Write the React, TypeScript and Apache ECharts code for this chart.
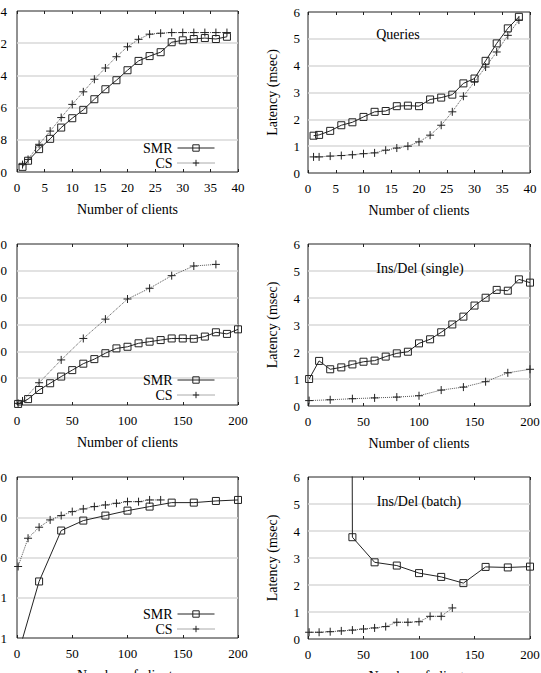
import React, { useEffect, useRef } from 'react';
import * as echarts from 'echarts';

const FONT = '"Liberation Serif", "Times New Roman", serif';

// ---------- Panel A (top-left): throughput vs clients (values in tick units) ----------
const A_X = [1, 2, 4, 6, 8, 10, 12, 14, 16, 18, 20, 22, 24, 26, 28, 30, 32, 34, 36, 38];
const A_SMR = [0.16, 0.35, 0.71, 1.03, 1.38, 1.67, 1.93, 2.26, 2.57, 2.85, 3.16, 3.45, 3.6, 3.72, 4.03, 4.09, 4.13, 4.16, 4.13, 4.2];
const A_CS = [0.23, 0.39, 0.86, 1.27, 1.69, 2.1, 2.49, 2.88, 3.23, 3.58, 3.89, 4.12, 4.28, 4.31, 4.33, 4.33, 4.33, 4.33, 4.33, 4.33];
const A_Y_LABELS = ['0', '8', '6', '4', '2', '4'];

// ---------- Panel B (top-right): Queries latency ----------
const B_X = [1, 2, 4, 6, 8, 10, 12, 14, 16, 18, 20, 22, 24, 26, 28, 30, 32, 34, 36, 38];
const B_SMR = [1.39, 1.42, 1.57, 1.78, 1.89, 2.09, 2.28, 2.31, 2.49, 2.51, 2.49, 2.74, 2.81, 2.92, 3.34, 3.52, 4.18, 4.83, 5.39, 5.82];
const B_CS = [0.6, 0.6, 0.63, 0.65, 0.68, 0.72, 0.75, 0.85, 0.93, 1.0, 1.16, 1.41, 1.78, 2.28, 2.86, 3.4, 3.95, 4.51, 5.13, 5.7];

// ---------- Panel C (middle-left): throughput (tick units) ----------
const C_SMR_X = [1, 10, 20, 30, 40, 50, 60, 70, 80, 90, 100, 110, 120, 130, 140, 150, 160, 170, 180, 190, 200];
const C_SMR = [0.04, 0.22, 0.56, 0.81, 1.06, 1.3, 1.54, 1.71, 1.93, 2.11, 2.17, 2.3, 2.36, 2.42, 2.48, 2.48, 2.47, 2.55, 2.71, 2.65, 2.82];
const C_CS_X = [1, 5, 20, 40, 60, 80, 100, 120, 140, 160, 180];
const C_CS = [0.06, 0.15, 0.83, 1.68, 2.48, 3.2, 3.95, 4.35, 4.82, 5.18, 5.24];
const C_Y_LABELS = ['', '0', '0', '0', '0', '0', '0'];

// ---------- Panel D (middle-right): Ins/Del (single) latency ----------
const D_SMR_X = [1, 10, 20, 30, 40, 50, 60, 70, 80, 90, 100, 110, 120, 130, 140, 150, 160, 170, 180, 190, 200];
const D_SMR = [1.0, 1.67, 1.36, 1.43, 1.54, 1.64, 1.68, 1.83, 1.95, 2.01, 2.32, 2.47, 2.73, 3.02, 3.31, 3.72, 4.01, 4.3, 4.27, 4.69, 4.57];
const D_CS_X = [1, 20, 40, 60, 80, 100, 120, 140, 160, 180, 200];
const D_CS = [0.2, 0.23, 0.27, 0.3, 0.33, 0.38, 0.59, 0.7, 0.9, 1.23, 1.36];

// ---------- Panel E (bottom-left): throughput, log scale ----------
const E_SMR_X = [1, 20, 40, 60, 80, 100, 120, 140, 160, 180, 200];
const E_SMR = [0.04, 2.54, 46.7, 82.6, 110, 146, 184, 231, 231, 254, 269];
const E_CS_X = [1, 10, 20, 30, 40, 50, 60, 70, 80, 90, 100, 110, 120, 130];
const E_CS = [5.98, 30.1, 56.5, 85.9, 110, 138, 161, 184, 202, 222, 244, 244, 269, 269];
const E_Y_LABELS = ['1', '1', '0', '0', '0']; // for 0.1, 1, 10, 100, 1000

// ---------- Panel F (bottom-right): Ins/Del (batch) latency ----------
const F_SMR_X = [20, 40, 60, 80, 100, 120, 140, 160, 180, 200];
const F_SMR = [300, 3.77, 2.84, 2.72, 2.44, 2.3, 2.07, 2.67, 2.65, 2.68];
const F_CS_X = [1, 10, 20, 30, 40, 50, 60, 70, 80, 90, 100, 110, 120, 130];
const F_CS = [0.25, 0.25, 0.27, 0.3, 0.33, 0.37, 0.41, 0.46, 0.62, 0.62, 0.64, 0.84, 0.84, 1.15];

const SERIES_NAMES = ['SMR', 'CS'];
const X_NAME = 'Number of clients';
const Y_NAME = 'Latency (msec)';
const TITLES = ['Queries', 'Ins/Del (single)', 'Ins/Del (batch)'];

const zip = (xs: number[], ys: number[]) => xs.map((x, i) => [x, ys[i]]);

const PLUS = 'path://M0,5L10,5M5,0L5,10';

type Panel = {
  grid: { left: number; top: number; width: number; height: number };
  xMax: number;
  xInt: number;
  log?: boolean;
  yMin: number;
  yMax: number;
  yInt?: number;
  fmt: (v: number) => string;
  smr: number[][];
  cs: number[][];
  legendTop?: number;
  title?: { text: string; x: number; y: number };
  yName?: boolean;
};

export default function App() {
  const ref = useRef<HTMLDivElement>(null);

  useEffect(() => {
    if (!ref.current) return;
    document.body.style.margin = '0';
    const chart = echarts.init(ref.current, undefined, { renderer: 'svg' });

    const panels: Panel[] = [
      {
        grid: { left: 17, top: 11, width: 221, height: 161 },
        xMax: 40, xInt: 5, yMin: 0, yMax: 5, yInt: 1,
        fmt: (v) => A_Y_LABELS[Math.round(v)] ?? '',
        smr: zip(A_X, A_SMR), cs: zip(A_X, A_CS), legendTop: 136,
      },
      {
        grid: { left: 308, top: 12, width: 222, height: 161 },
        xMax: 40, xInt: 5, yMin: 0, yMax: 6, yInt: 1,
        fmt: (v) => String(v),
        smr: zip(B_X, B_SMR), cs: zip(B_X, B_CS),
        title: { text: TITLES[0], x: 398, y: 34 }, yName: true,
      },
      {
        grid: { left: 17, top: 244, width: 221, height: 161 },
        xMax: 200, xInt: 50, yMin: 0, yMax: 6, yInt: 1,
        fmt: (v) => C_Y_LABELS[Math.round(v)] ?? '',
        smr: zip(C_SMR_X, C_SMR), cs: zip(C_CS_X, C_CS), legendTop: 368,
      },
      {
        grid: { left: 308, top: 244, width: 222, height: 162 },
        xMax: 200, xInt: 50, yMin: 0, yMax: 6, yInt: 1,
        fmt: (v) => String(v),
        smr: zip(D_SMR_X, D_SMR), cs: zip(D_CS_X, D_CS),
        title: { text: TITLES[1], x: 420, y: 268 }, yName: true,
      },
      {
        grid: { left: 17, top: 477, width: 221, height: 161 },
        xMax: 200, xInt: 50, log: true, yMin: 0.1, yMax: 1000,
        fmt: (v) => E_Y_LABELS[Math.round(Math.log10(v)) + 1] ?? '',
        smr: zip(E_SMR_X, E_SMR), cs: zip(E_CS_X, E_CS), legendTop: 602,
      },
      {
        grid: { left: 308, top: 477, width: 222, height: 162 },
        xMax: 200, xInt: 50, yMin: 0, yMax: 6, yInt: 1,
        fmt: (v) => String(v),
        smr: zip(F_SMR_X, F_SMR), cs: zip(F_CS_X, F_CS),
        title: { text: TITLES[2], x: 419, y: 501 }, yName: true,
      },
    ];

    const grids: any[] = [];
    const xAxes: any[] = [];
    const yAxes: any[] = [];
    const series: any[] = [];
    const legends: any[] = [];
    const graphics: any[] = [];

    panels.forEach((p, i) => {
      grids.push({
        ...p.grid,
        show: true,
        borderColor: '#222',
        borderWidth: 1,
        backgroundColor: 'transparent',
        containLabel: false,
        outerBoundsMode: 'none',
      });
      xAxes.push({
        type: 'value', gridIndex: i, position: 'bottom',
        min: 0, max: p.xMax, interval: p.xInt,
        axisLine: { show: false },
        axisTick: { show: true, inside: true, length: 3, lineStyle: { color: '#222' } },
        axisLabel: { fontFamily: FONT, fontSize: 13, color: '#000', margin: 9 },
        splitLine: { show: false },
        name: X_NAME, nameLocation: 'middle', nameGap: 30,
        nameTextStyle: { fontFamily: FONT, fontSize: 14, color: '#000' },
      });
      xAxes.push({
        type: 'value', gridIndex: i, position: 'top',
        min: 0, max: p.xMax, interval: p.xInt,
        axisLine: { show: false },
        axisTick: { show: true, inside: true, length: 3, lineStyle: { color: '#222' } },
        axisLabel: { show: false },
        splitLine: { show: false },
      });
      const y: any = {
        gridIndex: i,
        min: p.yMin, max: p.yMax,
        axisLine: { show: false },
        axisTick: { show: false },
        axisLabel: { fontFamily: FONT, fontSize: 13, color: '#000', margin: p.yName ? 8 : 10, formatter: p.fmt },
        splitLine: { show: true, showMinLine: false, showMaxLine: false, lineStyle: { color: '#d9d9d9', width: 1.5 } },
      };
      if (p.log) {
        y.type = 'log';
        y.logBase = 10;
      } else {
        y.type = 'value';
        y.interval = p.yInt;
      }
      if (p.yName) {
        y.name = Y_NAME;
        y.nameLocation = 'middle';
        y.nameGap = 29;
        y.nameTextStyle = { fontFamily: FONT, fontSize: 14, color: '#000' };
      }
      yAxes.push(y);

      series.push({
        name: SERIES_NAMES[0], type: 'line',
        xAxisIndex: 2 * i, yAxisIndex: i,
        data: p.smr,
        symbol: 'rect', symbolSize: 7,
        itemStyle: { color: 'transparent', borderColor: '#222', borderWidth: 1 },
        lineStyle: { color: '#222', width: 1, type: 'solid' },
        clip: true,
        z: 3,
      });
      series.push({
        name: SERIES_NAMES[1], type: 'line',
        xAxisIndex: 2 * i, yAxisIndex: i,
        data: p.cs,
        symbol: PLUS, symbolSize: 8,
        itemStyle: { color: 'transparent', borderColor: '#222', borderWidth: 1 },
        lineStyle: { color: '#555', width: 1, type: 'dotted' },
        clip: true,
        z: 2,
      });

      if (p.legendTop !== undefined) {
        legends.push({
          data: SERIES_NAMES,
          orient: 'vertical', align: 'right',
          right: 321, top: p.legendTop,
          itemWidth: 37, itemHeight: 8, itemGap: 1,
          selectedMode: false,
          lineStyle: { width: 1 },
          itemStyle: { borderWidth: 1 },
          textStyle: { fontFamily: FONT, fontSize: 14, color: '#000' },
        });
      }
      if (p.title) {
        graphics.push({
          type: 'text', x: p.title.x, y: p.title.y, z: 10,
          style: {
            text: p.title.text, textAlign: 'center', textVerticalAlign: 'middle',
            font: `14px ${FONT}`, fill: '#000',
          },
        });
      }
    });

    chart.setOption({
      animation: false,
      backgroundColor: '#fff',
      grid: grids,
      xAxis: xAxes,
      yAxis: yAxes,
      series,
      legend: legends,
      graphic: graphics,
    });

    return () => chart.dispose();
  }, []);

  return (
    <div
      ref={ref}
      style={{ position: 'absolute', left: 0, top: 0, width: 541, height: 673 }}
    />
  );
}
